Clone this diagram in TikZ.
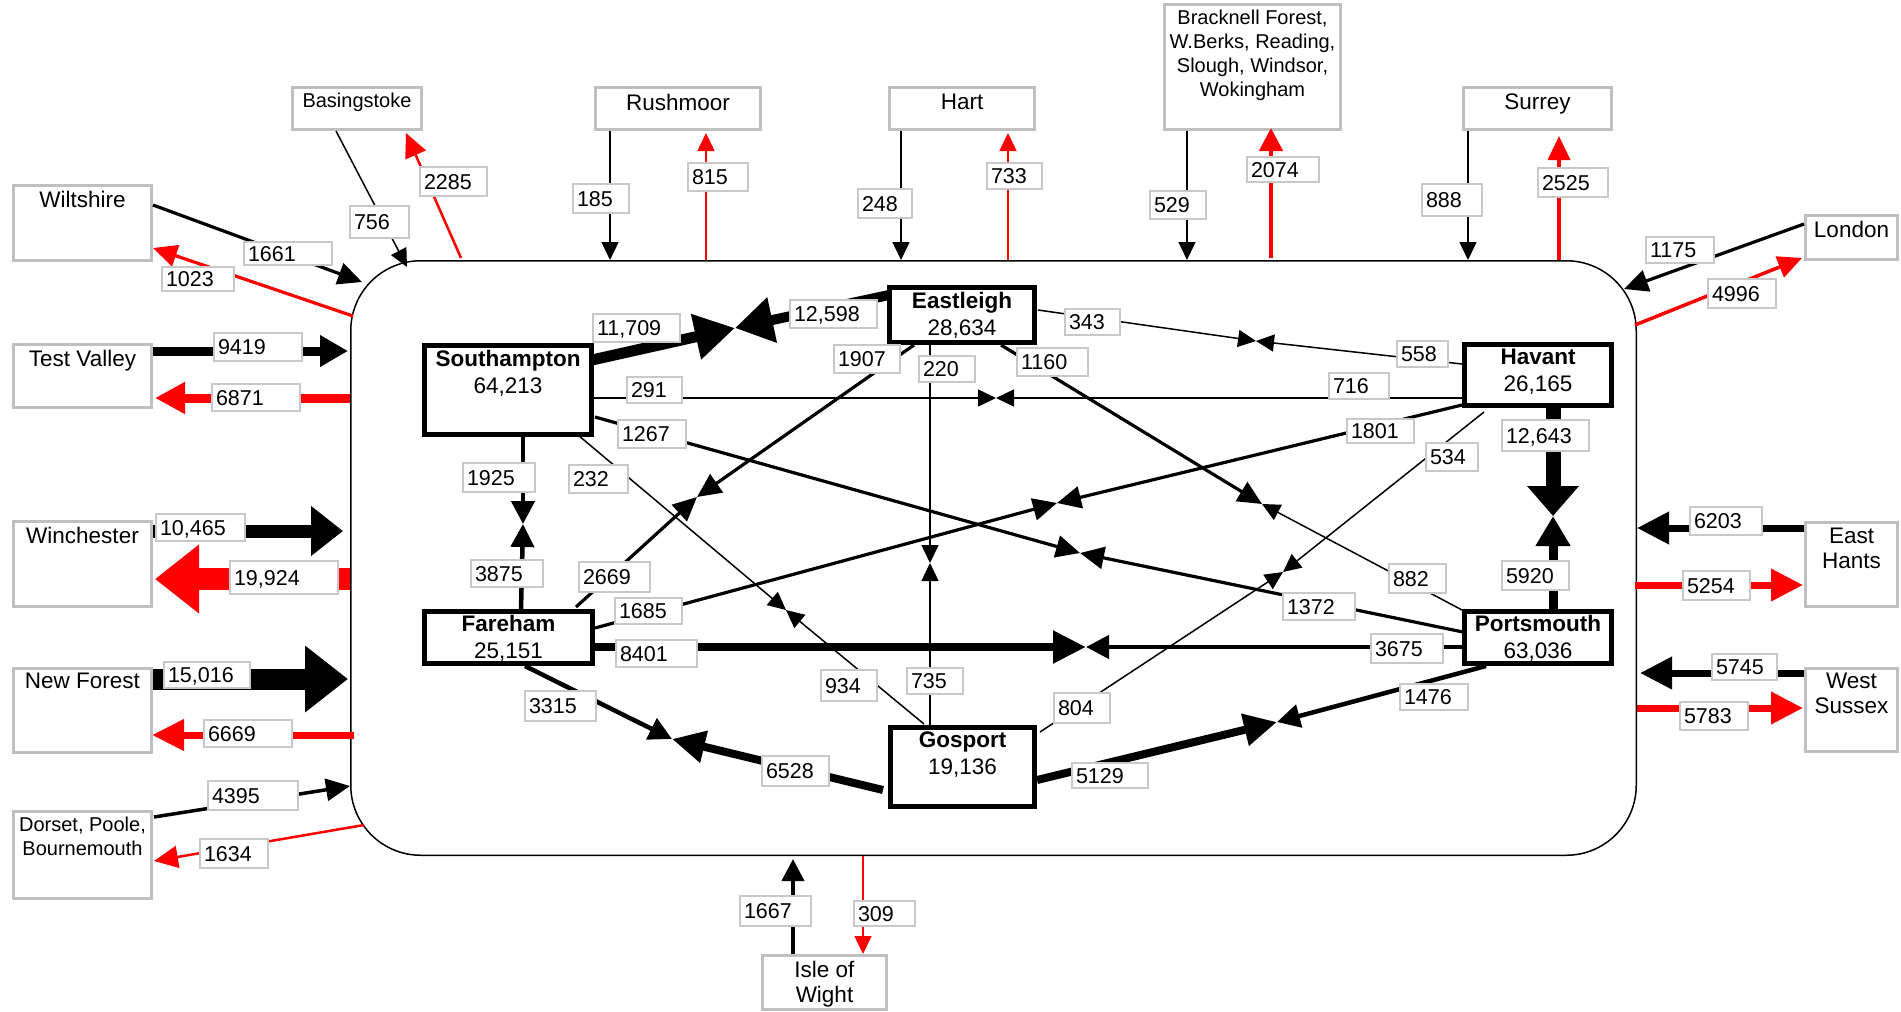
\documentclass[tikz,border=0pt]{standalone}
\usepackage{fontspec}
\setmainfont{Liberation Sans}
\usetikzlibrary{arrows.meta}
\definecolor{boxgray}{RGB}{192,192,192}
\definecolor{labgray}{RGB}{200,200,200}
\definecolor{flowred}{RGB}{255,0,0}
\tikzset{
  container/.style={draw=black, line width=1.5pt, rounded corners=70pt, inner sep=0pt, outer sep=0pt},
  outbox/.style={draw=boxgray, line width=3pt, fill=white, inner sep=0pt, outer sep=0pt},
  inbox/.style={draw=black, line width=5pt, fill=white, inner sep=0pt, outer sep=0pt},
  otext/.style={inner sep=0pt, align=center, font=\fontsize{22.5}{25.5}\selectfont},
  stext/.style={inner sep=0pt, align=center, font=\fontsize{20}{24}\selectfont},
  itext/.style={inner sep=0pt, align=center, font=\fontsize{22.5}{27}\selectfont},
  lab/.style={draw=labgray, line width=1.8pt, fill=white, inner xsep=4pt, inner ysep=0pt, outer sep=0pt, align=left, font=\fontsize{21.5}{24}\selectfont, text height=15.5pt, text depth=0pt},
  fl/.style n args={3}{line width=#1pt, -{Triangle[length=#2pt,width=#3pt]}},
  thin/.style={fl={1.5}{18}{17}},
  med/.style={fl={3.2}{24}{22}},
  mid4/.style={fl={4.5}{23}{23}},
  big8/.style={fl={8}{33}{31}},
  outred/.style={color=flowred},
}
\newcommand\obox[5]{\pgfmathsetmacro\bw{#4-#2-3}\pgfmathsetmacro\bh{#5-#3-3}%
  \node[outbox, minimum width=\bw pt, minimum height=\bh pt, anchor=north west] (#1) at (#2+1.5,#3+1.5) {};}
\newcommand\ibox[5]{\pgfmathsetmacro\bw{#4-#2-5}\pgfmathsetmacro\bh{#5-#3-5}%
  \node[inbox, minimum width=\bw pt, minimum height=\bh pt, anchor=north west] (#1) at (#2+2.5,#3+2.5) {};}
\newcommand\lbl[6]{\pgfmathsetmacro\lw{#4-#2-8}\pgfmathsetmacro\lh{#5-#3}%
  \node[lab, text width=\lw pt, minimum height=\lh pt, anchor=north west] (#1) at (#2,#3) {#6};}
\newcommand\flow[6]{\coordinate (#1s) at (#3,#4); \coordinate (#1t) at (#5,#6); \draw[#2] (#1s) -- (#1t);}
\newcommand\bow[9]{\coordinate (#1a) at (#4,#5); \coordinate (#1m) at (#6,#7); \coordinate (#1b) at (#8,#9);%
  \draw[#2] (#1a) -- (#1m); \draw[#3] (#1b) -- (#1m);}
\begin{document}
\begin{tikzpicture}[x=1pt,y=-1pt]
\useasboundingbox (0,0) rectangle (1901,1012);
\fill[white] (0,0) rectangle (1901,1012);
% container
\node[container, minimum width=1285.5pt, minimum height=594.5pt, anchor=north west] (R) at (350.75,260.75) {};
% outer boxes
\obox{Wilt}{12}{184}{153}{262}
\obox{TV}{12}{343}{153}{409}
\obox{Basing}{291}{86}{423}{131}
\obox{Rush}{594}{86}{762}{131}
\obox{Hart}{888}{86}{1036}{131}
\obox{Brack}{1163}{3}{1342}{131}
\obox{Surrey}{1462}{86}{1613}{131}
\obox{London}{1804}{214}{1899}{261}
\obox{Winch}{12}{520}{153}{608}
\obox{NF}{12}{667}{153}{754}
\obox{Dorset}{12}{810}{153}{900}
\obox{EH}{1804}{521}{1899}{608}
\obox{WS}{1804}{667}{1899}{753}
\obox{IoW}{761}{954}{888}{1011}
\node[otext, anchor=north] (Wilt-t) at ([yshift=-5pt]Wilt.north) {Wiltshire};
\node[otext, anchor=north] (TV-t) at ([yshift=-5pt]TV.north) {Test Valley};
\node[stext, anchor=north] (Basing-t) at ([yshift=-5pt]Basing.north) {Basingstoke};
\node[otext, anchor=north] (Rush-t) at ([yshift=-6pt]Rush.north) {Rushmoor};
\node[otext, anchor=north] (Hart-t) at ([yshift=-6pt]Hart.north) {Hart};
\node[stext, anchor=north] (Brack-t) at ([yshift=-5pt]Brack.north) {Bracknell Forest,\\W.Berks, Reading,\\Slough, Windsor,\\Wokingham};
\node[otext, anchor=north] (Surrey-t) at ([yshift=-6pt]Surrey.north) {Surrey};
\node[otext, anchor=north] (London-t) at ([yshift=-5pt]London.north) {London};
\node[otext, anchor=north] (Winch-t) at ([yshift=-5pt]Winch.north) {Winchester};
\node[otext, anchor=north] (NF-t) at ([yshift=-4pt]NF.north) {New Forest};
\node[stext, anchor=north] (Dorset-t) at ([yshift=-5pt]Dorset.north) {Dorset, Poole,\\Bournemouth};
\node[otext, anchor=north] (EH-t) at ([yshift=-5pt]EH.north) {East\\Hants};
\node[otext, anchor=north] (WS-t) at ([yshift=-4pt]WS.north) {West\\Sussex};
\node[otext, anchor=north] (IoW-t) at ([yshift=-5pt]IoW.north) {Isle of\\Wight};
% inner boxes
\ibox{S}{422}{343}{594}{437}
\ibox{E}{887}{285}{1037}{345}
\ibox{H}{1462}{342}{1614}{408}
\ibox{P}{1462}{609}{1614}{666}
\ibox{F}{422}{609}{595}{666}
\ibox{G}{888}{725}{1037}{809}
\node[itext, anchor=north] (S-t) at ([yshift=-4.5pt]S.north) {\textbf{Southampton}\\64,213};
\node[itext, anchor=north] (E-t) at ([yshift=-4.5pt]E.north) {\textbf{Eastleigh}\\28,634};
\node[itext, anchor=north] (H-t) at ([yshift=-4pt]H.north) {\textbf{Havant}\\26,165};
\node[itext, anchor=north] (P-t) at ([yshift=-3.8pt]P.north) {\textbf{Portsmouth}\\63,036};
\node[itext, anchor=north] (F-t) at ([yshift=-3.8pt]F.north) {\textbf{Fareham}\\25,151};
\node[itext, anchor=north] (G-t) at ([yshift=-4.5pt]G.north) {\textbf{Gosport}\\19,136};
% external flows
\flow{x1}{med}{153}{205}{362}{282}
\flow{x2}{med,outred}{353}{316}{153}{248}
\flow{x3}{thin}{336}{131}{407}{267}
\flow{x4}{med,outred,line width=2.5pt}{461}{258}{406}{133}
\flow{x5}{thin}{610}{131}{610}{260}
\flow{x6}{thin,outred}{706}{260}{706}{133}
\flow{x7}{thin}{901}{131}{901}{260}
\flow{x8}{thin,outred}{1008}{260}{1008}{133}
\flow{x9}{thin}{1187}{131}{1187}{260}
\flow{x10}{mid4,outred}{1271}{258}{1271}{128}
\flow{x11}{thin}{1468}{131}{1468}{260}
\flow{x12}{med,outred,line width=3.5pt}{1559}{260}{1559}{136}
\flow{x13}{med}{1804}{224}{1624}{289}
\flow{x14}{med,outred,line width=3.5pt}{1635}{325}{1802}{258}
\flow{x15}{fl={9}{28}{30}}{153}{351}{348}{351}
\flow{x16}{fl={9}{30}{30},outred}{350}{398}{155}{398}
\flow{x17}{fl={13}{32}{48}}{153}{531}{343}{531}
\flow{x18}{fl={22}{44}{66},outred}{350}{579}{155}{579}
\flow{x19}{fl={21}{43}{64}}{153}{679}{348}{679}
\flow{x20}{fl={7}{32}{30},outred}{354}{735}{152}{735}
\flow{x21}{med,line width=3.5pt}{154}{817}{350}{786}
\flow{x22}{med,outred,line width=2.5pt}{364}{825}{154}{861}
\flow{x23}{fl={7}{32}{31}}{1804}{528}{1637}{528}
\flow{x24}{fl={7}{32}{31},outred}{1635}{585}{1803}{585}
\flow{x25}{fl={7}{32}{31}}{1804}{673}{1640}{673}
\flow{x26}{fl={7}{32}{31},outred}{1637}{708}{1803}{708}
\flow{x27}{fl={4}{22}{22}}{793}{954}{793}{859}
\flow{x28}{thin,outred}{863}{856}{863}{954}
% internal links
\bow{bA}{fl={11}{40}{44}}{fl={10}{38}{44}}{592}{360}{735}{328}{889}{295}
\bow{bB}{mid4}{mid4}{523}{437}{523}{524}{521}{610}
\bow{bC}{thin}{thin}{594}{398}{996}{398}{1462}{398}
\bow{bD}{thin}{thin}{1038}{310}{1256}{341}{1462}{364}
\bow{bE}{med}{med}{914}{345}{697}{497}{576}{607}
\bow{bF}{thin}{thin}{930}{345}{930}{563}{930}{725}
\bow{bG}{med}{thin}{1001}{345}{1262}{504}{1462}{610}
\bow{bH}{med}{med}{595}{417}{1080}{553}{1463}{632}
\bow{bI}{thin}{thin}{578}{435}{786}{610}{924}{724}
\bow{bJ}{med}{med}{1462}{405}{1057}{503}{595}{628}
\bow{bK}{thin}{thin}{1484}{412}{1283}{572}{1040}{732}
\bow{bL}{fl={15}{30}{50}}{fl={9}{30}{33}}{1553}{408}{1553}{516}{1553}{610}
\bow{bM}{big8}{mid4}{595}{647}{1086}{647}{1462}{647}
\bow{bN}{mid4}{big8}{525}{666}{672}{739}{883}{790}
\bow{bO}{big8}{mid4}{1037}{780}{1277}{722}{1486}{666}
% labels
\lbl{l1661}{244}{242}{332}{265}{1661}
\lbl{l1023}{162}{267}{234}{291}{1023}
\lbl{l756}{350}{206}{409}{238}{756}
\lbl{l2285}{420}{167}{487}{196}{2285}
\lbl{l185}{573}{184}{629}{213}{185}
\lbl{l815}{688}{163}{748}{191}{815}
\lbl{l248}{858}{189}{912}{218}{248}
\lbl{l733}{987}{163}{1042}{189}{733}
\lbl{l529}{1150}{191}{1206}{219}{529}
\lbl{l2074}{1247}{157}{1319}{182}{2074}
\lbl{l888}{1422}{184}{1482}{216}{888}
\lbl{l2525}{1538}{168}{1608}{197}{2525}
\lbl{l1175}{1646}{237}{1714}{263}{1175}
\lbl{l4996}{1708}{279}{1776}{308}{4996}
\lbl{l9419}{214}{333}{302}{361}{9419}
\lbl{l6871}{212}{384}{300}{411}{6871}
\lbl{l10465}{156}{514}{245}{541}{10,465}
\lbl{l19924}{230}{561}{338}{594}{19,924}
\lbl{l15016}{164}{662}{250}{688}{15,016}
\lbl{l6669}{204}{720}{292}{747}{6669}
\lbl{l4395}{208}{781}{298}{810}{4395}
\lbl{l1634}{200}{839}{268}{868}{1634}
\lbl{l6203}{1690}{507}{1762}{535}{6203}
\lbl{l5254}{1683}{571}{1750}{600}{5254}
\lbl{l5745}{1712}{654}{1777}{680}{5745}
\lbl{l5783}{1680}{702}{1748}{730}{5783}
\lbl{l1667}{740}{896}{811}{926}{1667}
\lbl{l309}{854}{901}{915}{926}{309}
\lbl{l11709}{593}{314}{680}{342}{11,709}
\lbl{l12598}{790}{300}{877}{328}{12,598}
\lbl{l1925}{463}{463}{535}{492}{1925}
\lbl{l3875}{471}{560}{543}{587}{3875}
\lbl{l291}{627}{377}{682}{403}{291}
\lbl{l716}{1329}{373}{1389}{399}{716}
\lbl{l343}{1065}{309}{1120}{335}{343}
\lbl{l558}{1397}{341}{1448}{367}{558}
\lbl{l1907}{834}{345}{900}{373}{1907}
\lbl{l2669}{579}{562}{650}{592}{2669}
\lbl{l220}{919}{356}{975}{382}{220}
\lbl{l735}{907}{668}{963}{694}{735}
\lbl{l1160}{1017}{348}{1088}{376}{1160}
\lbl{l882}{1389}{564}{1446}{593}{882}
\lbl{l1267}{618}{420}{686}{448}{1267}
\lbl{l1372}{1283}{593}{1355}{620}{1372}
\lbl{l232}{569}{465}{628}{493}{232}
\lbl{l934}{821}{670}{877}{701}{934}
\lbl{l1801}{1347}{419}{1414}{443}{1801}
\lbl{l1685}{615}{598}{682}{624}{1685}
\lbl{l534}{1426}{443}{1478}{471}{534}
\lbl{l804}{1054}{693}{1110}{723}{804}
\lbl{l12643}{1502}{420}{1589}{451}{12,643}
\lbl{l5920}{1502}{561}{1569}{590}{5920}
\lbl{l8401}{616}{640}{697}{667}{8401}
\lbl{l3675}{1371}{634}{1443}{663}{3675}
\lbl{l3315}{525}{691}{596}{721}{3315}
\lbl{l6528}{762}{756}{829}{786}{6528}
\lbl{l5129}{1072}{763}{1148}{788}{5129}
\lbl{l1476}{1400}{684}{1468}{710}{1476}
\end{tikzpicture}
\end{document}
